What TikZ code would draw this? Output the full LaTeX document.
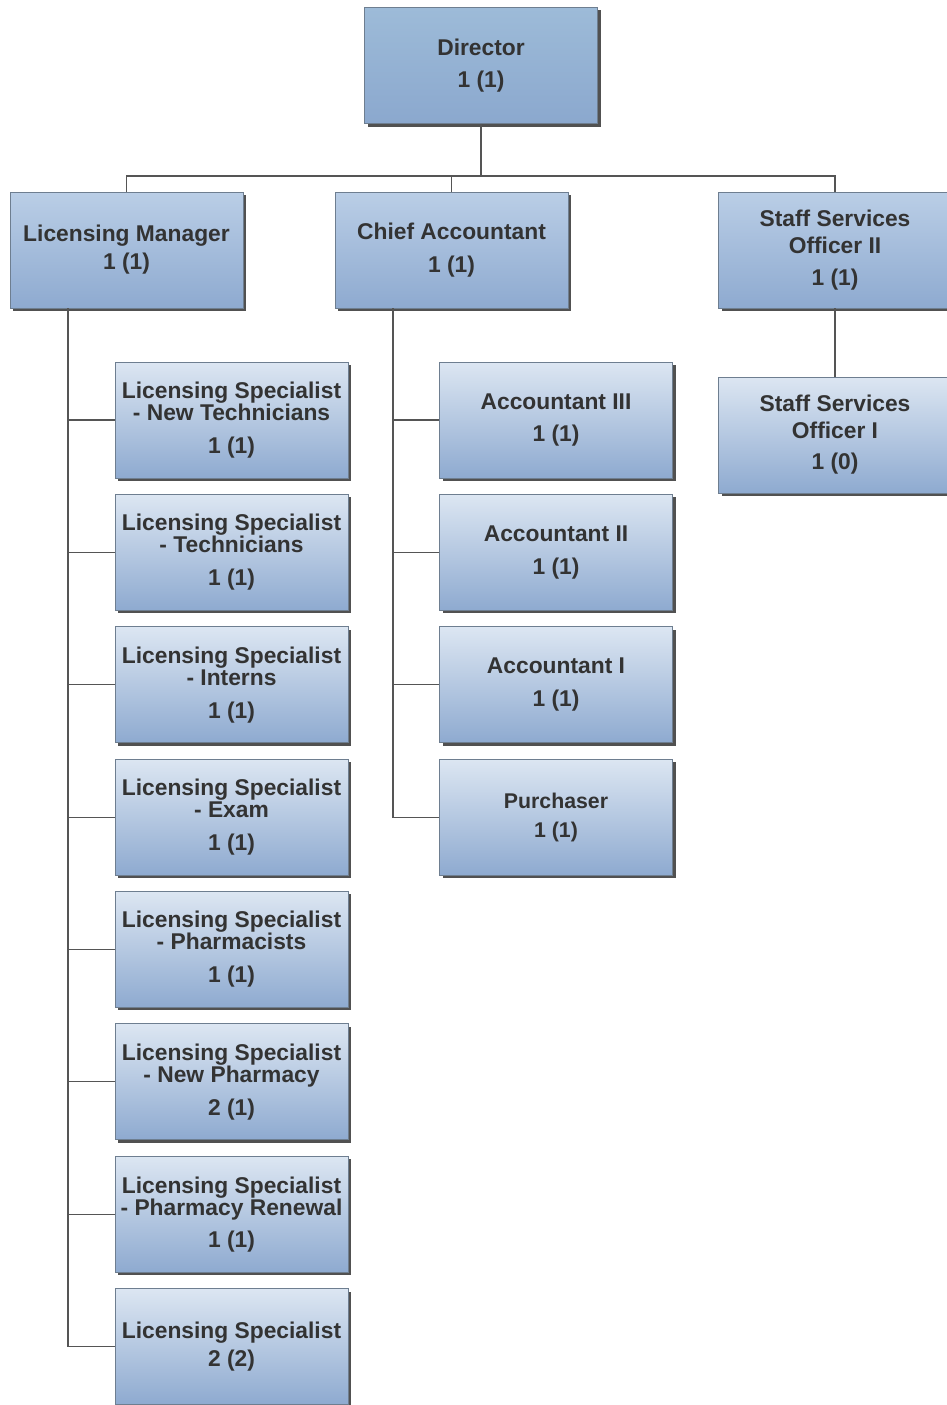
\documentclass[tikz,border=0pt]{standalone}
\usepackage{fontspec}
\setmainfont{Liberation Sans}
\usetikzlibrary{shadows}
\definecolor{txt}{HTML}{333333}
\definecolor{bordc}{HTML}{6E7E90}
\definecolor{linec}{HTML}{555555}
\definecolor{topA}{HTML}{9DBBD8}
\definecolor{botA}{HTML}{8BA8CE}
\definecolor{topB}{HTML}{BACEE6}
\definecolor{botB}{HTML}{8EAAD0}
\definecolor{topC}{HTML}{DCE6F2}
\definecolor{botC}{HTML}{8EAAD0}
\tikzset{
  orgbox/.style={draw=bordc, line width=0.8pt, minimum width=233pt, minimum height=116pt,
    inner sep=0pt, align=center, text=txt,
    font=\fontsize{22.8}{27}\selectfont\bfseries,
    drop shadow={shadow xshift=3pt, shadow yshift=-3pt, fill=black!80, opacity=0.85}},
  lvlA/.style={orgbox, top color=topA, bottom color=botA},
  lvlB/.style={orgbox, top color=topB, bottom color=botB},
  lvlC/.style={orgbox, top color=topC, bottom color=botC},
  conn/.style={draw=linec, line width=1.2pt}
}
\begin{document}
\begin{tikzpicture}[x=1pt,y=-1pt]
\useasboundingbox (0,0) rectangle (947,1405);
% top levels
\node[lvlA] (dir) at (481,65.5) {Director\\[5pt]1 (1)};
\node[lvlB] (lm) at (126.5,250) {Licensing Manager\\[1pt]1 (1)};
\node[lvlB] (ca) at (451.5,250) {Chief Accountant\\[6pt]1 (1)};
\node[lvlB] (ssoii) at (835,250) {Staff Services\\Officer II\\[5pt]1 (1)};
\node[lvlC] (ssoi) at (835,435) {Staff Services\\Officer I\\[4pt]1 (0)};
% left column
\node[lvlC] (ls1) at (231.5,420) {Licensing Specialist\\[-5pt]- New Technicians\\[6pt]1 (1)};
\node[lvlC] (ls2) at (231.5,552.4) {Licensing Specialist\\[-5pt]- Technicians\\[6pt]1 (1)};
\node[lvlC] (ls3) at (231.5,684.7) {Licensing Specialist\\[-5pt]- Interns\\[6pt]1 (1)};
\node[lvlC] (ls4) at (231.5,817.1) {Licensing Specialist\\[-5pt]- Exam\\[6pt]1 (1)};
\node[lvlC] (ls5) at (231.5,949.4) {Licensing Specialist\\[-5pt]- Pharmacists\\[6pt]1 (1)};
\node[lvlC] (ls6) at (231.5,1081.8) {Licensing Specialist\\[-5pt]- New Pharmacy\\[6pt]2 (1)};
\node[lvlC] (ls7) at (231.5,1214.2) {Licensing Specialist\\[-5pt]- Pharmacy Renewal\\[5pt]1 (1)};
\node[lvlC] (ls8) at (231.5,1346.5) {Licensing Specialist\\[1pt]2 (2)};
% middle column
\node[lvlC] (ac3) at (556,420) {Accountant III\\[5pt]1 (1)};
\node[lvlC] (ac2) at (556,552.4) {Accountant II\\[6pt]1 (1)};
\node[lvlC] (ac1) at (556,684.7) {Accountant I\\[6pt]1 (1)};
\node[lvlC, font=\fontsize{21.3}{27}\selectfont\bfseries] (pur) at (556,817.1) {Purchaser\\[2pt]1 (1)};
% connectors
\coordinate (bus) at (0,176);
\coordinate (spL) at (68,0);
\coordinate (spM) at (393,0);
\draw[conn] (dir.south) -- (dir.south |- bus);
\draw[conn] (lm.north) |- (ssoii.north |- bus) -- (ssoii.north);
\draw[conn] (ca.north) -- (ca.north |- bus);
\draw[conn] (ssoii.south) -- (ssoi.north);
\draw[conn] (spL |- lm.south) |- (ls8.west);
\foreach \n in {ls1,ls2,ls3,ls4,ls5,ls6,ls7} \draw[conn] (spL |- \n.west) -- (\n.west);
\draw[conn] (spM |- ca.south) |- (pur.west);
\foreach \n in {ac3,ac2,ac1} \draw[conn] (spM |- \n.west) -- (\n.west);
\end{tikzpicture}
\end{document}
